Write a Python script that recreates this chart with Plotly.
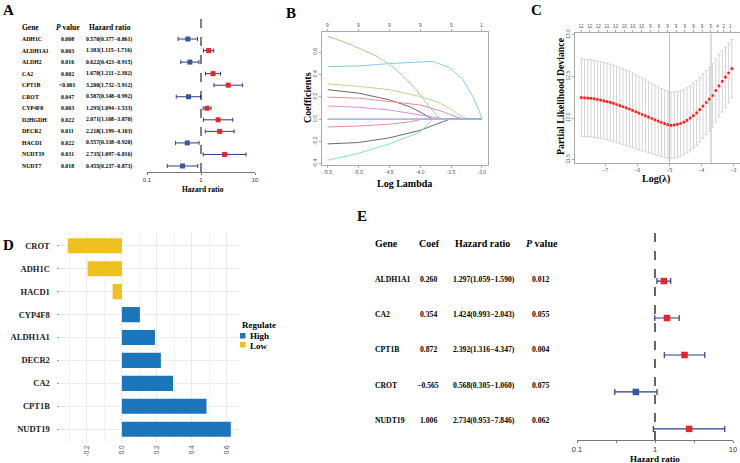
import plotly.graph_objects as go

W, H = 740, 463
SERIF = "Liberation Serif"
SANS = "Liberation Sans"


def fx(px):
    return px / W


def fy(py):
    return 1 - py / H


# ---------------- Panel A data (univariate Cox) ----------------
genes_a = ["ADH1C", "ALDH1A1", "ALDH2", "CA2", "CPT1B", "CROT", "CYP4F8",
           "D2HGDH", "DECR2", "HACD1", "NUDT19", "NUDT7"]
pval_a = ["0.008", "0.003", "0.016", "0.002", "<0.001", "0.047", "0.003",
          "0.022", "0.011", "0.022", "0.031", "0.018"]
hr_a = [0.570, 1.383, 0.622, 1.670, 3.200, 0.587, 1.295, 2.071, 2.218, 0.557, 2.735, 0.455]
lo_a = [0.377, 1.115, 0.423, 1.211, 1.732, 0.348, 1.094, 1.108, 1.199, 0.338, 1.097, 0.237]
hi_a = [0.861, 1.716, 0.915, 2.302, 5.912, 0.992, 1.533, 3.870, 4.103, 0.920, 6.816, 0.873]

# ---------------- Panel B data (LASSO coefficient paths) ----------------
path_x_nudt19 = [-5.5, -5.148, -4.715, -4.5, -4.282, -4.066, -3.85, -3.68, -3.0]
path_y_nudt19 = [0.742, 0.673, 0.567, 0.491, 0.391, 0.264, 0.112, 0.0, 0.0]
path_x_cpt1b = [-5.5, -5.0, -4.5, -4.0, -3.8, -3.525, -3.308, -3.146, -3.038, -3.0]
path_y_cpt1b = [0.470, 0.476, 0.497, 0.515, 0.518, 0.461, 0.355, 0.203, 0.067, 0.0]
path_x_ca2 = [-5.5, -5.0, -4.5, -4.0, -3.74, -3.52, -3.36, -3.23, -3.0]
path_y_ca2 = [0.315, 0.294, 0.264, 0.203, 0.158, 0.097, 0.036, 0.0, 0.0]
path_x_decr2 = [-5.5, -5.0, -4.5, -4.17, -3.96, -3.80, -3.0]
path_y_decr2 = [0.264, 0.233, 0.173, 0.112, 0.052, 0.0, 0.0]
path_x_aldh1a1 = [-5.5, -5.0, -4.5, -4.0, -3.63, -3.42, -3.28, -3.0]
path_y_aldh1a1 = [0.197, 0.188, 0.158, 0.127, 0.067, 0.021, 0.0, 0.0]
path_x_cyp4f8 = [-5.5, -5.0, -4.5, -4.0, -3.74, -3.58, -3.0]
path_y_cyp4f8 = [0.118, 0.106, 0.082, 0.042, 0.015, 0.0, 0.0]
path_x_hacd1 = [-5.5, -5.0, -4.5, -4.17, -3.96, -3.0]
path_y_hacd1 = [-0.070, -0.061, -0.045, -0.024, 0.0, 0.0]
path_x_adh1c = [-5.5, -5.0, -4.5, -4.0, -3.74, -3.52, -3.0]
path_y_adh1c = [-0.221, -0.209, -0.167, -0.100, -0.045, 0.0, 0.0]
path_x_crot = [-5.5, -5.0, -4.5, -4.17, -4.0, -3.8, -3.0]
path_y_crot = [-0.367, -0.306, -0.221, -0.155, -0.115, 0.0, 0.0]
path_x_zero = [-5.5, -3.0]
path_y_zero = [0.0, 0.0]
b_ticks = [-5.5, -5.0, -4.5, -4.0, -3.5, -3.0]
b_tick_labels = ["-5.5", "-5.0", "-4.5", "-4.0", "-3.5", "-3.0"]
b_top_labels = ["9", "9", "9", "9", "5", "1"]
b_yticks = [-0.4, -0.2, 0.0, 0.2, 0.4, 0.6]
b_ytick_labels = ["-0.4", "-0.2", "0.0", "0.2", "0.4", "0.6"]

# ---------------- Panel C data (cross-validation) ----------------
cv_loglam = [-7.75, -7.65, -7.55, -7.45, -7.35, -7.25, -7.15, -7.05, -6.95, -6.85,
             -6.75, -6.65, -6.55, -6.45, -6.35, -6.25, -6.15, -6.05, -5.95, -5.85,
             -5.75, -5.65, -5.55, -5.45, -5.35, -5.25, -5.15, -5.05, -4.95, -4.85,
             -4.75, -4.65, -4.55, -4.45, -4.35, -4.25, -4.15, -4.05, -3.95, -3.85,
             -3.75, -3.65, -3.55, -3.45, -3.35, -3.25, -3.15, -3.05]
cv_mean = [12.244, 12.242, 12.239, 12.235, 12.230, 12.222, 12.215, 12.206, 12.197, 12.187,
           12.175, 12.162, 12.148, 12.135, 12.122, 12.108, 12.092, 12.075, 12.058, 12.042,
           12.026, 12.010, 11.994, 11.978, 11.962, 11.946, 11.932, 11.920, 11.912, 11.916,
           11.924, 11.934, 11.950, 11.972, 11.998, 12.028, 12.062, 12.100, 12.142, 12.186,
           12.226, 12.270, 12.330, 12.386, 12.440, 12.490, 12.540, 12.592]
cv_se = [0.464, 0.464, 0.463, 0.463, 0.462, 0.462, 0.461, 0.461, 0.460, 0.460,
         0.459, 0.458, 0.457, 0.455, 0.453, 0.451, 0.448, 0.445, 0.441, 0.437,
         0.432, 0.427, 0.422, 0.417, 0.412, 0.408, 0.405, 0.402, 0.400, 0.398,
         0.396, 0.394, 0.393, 0.392, 0.391, 0.390, 0.390, 0.389, 0.388, 0.386,
         0.384, 0.381, 0.378, 0.374, 0.369, 0.363, 0.357, 0.350]
lambda_min = -5.0
lambda_1se = -3.70
c_top_pos = [-7.76, -7.49, -7.22, -6.95, -6.68, -6.41, -6.14, -5.87, -5.60, -5.33,
             -5.06, -4.79, -4.52, -4.25, -3.98, -3.71, -3.50, -3.30, -3.10]
c_top_labels = ["12", "12", "12", "11", "10", "10", "10", "10", "9", "9",
                "9", "9", "9", "9", "9", "5", "4", "2", "1"]
c_xticks = [-7, -6, -5, -4, -3]
c_yticks = [11.5, 12.0, 12.5, 13.0]
c_ytick_labels = ["11.5", "12.0", "12.5", "13.0"]

# ---------------- Panel D data (LASSO coefficients) ----------------
genes_d = ["CROT", "ADH1C", "HACD1", "CYP4F8", "ALDH1A1", "DECR2", "CA2", "CPT1B", "NUDT19"]
coef_d = [-0.310, -0.196, -0.053, 0.103, 0.189, 0.223, 0.293, 0.484, 0.623]
d_ticks = [-0.2, 0.0, 0.2, 0.4, 0.6]
d_tick_labels = ["-0.2", "0.0", "0.2", "0.4", "0.6"]

# ---------------- Panel E data (multivariate Cox) ----------------
genes_e = ["ALDH1A1", "CA2", "CPT1B", "CROT", "NUDT19"]
coef_e = ["0.260", "0.354", "0.872", "\u22120.565", "1.006"]
hr_e = [1.297, 1.424, 2.392, 0.568, 2.734]
lo_e = [1.059, 0.993, 1.316, 0.305, 0.953]
hi_e = [1.590, 2.043, 4.347, 1.060, 7.846]
pval_e = ["0.012", "0.055", "0.004", "0.075", "0.062"]

hr_ticks = [0.1, 0.3162, 1, 3.162, 10]
hr_tick_labels = ["0.1", "", "1", "", "10"]

RED = "#E8262A"
BLUE = "#3B55A5"
NAVY = "#2B3A91"
BAR_HIGH = "#1B75BB"
BAR_LOW = "#EFC11F"

fig = go.Figure()
annotations = []
shapes = []


def ann(text, x, y, size, xanchor="center", yanchor="middle", family=SERIF,
        color="black", xref="paper", yref="paper", angle=0):
    annotations.append(dict(text=text, x=x, y=y, xref=xref, yref=yref,
                            xanchor=xanchor, yanchor=yanchor, showarrow=False,
                            textangle=angle, font=dict(family=family, size=size, color=color)))


# ---------- Panel A ----------
ya = list(range(len(genes_a)))
fig.add_trace(go.Scatter(
    x=hr_a, y=ya, mode="markers", xaxis="x", yaxis="y",
    marker=dict(symbol="square", size=5,
                color=[RED if h > 1 else BLUE for h in hr_a]),
    error_x=dict(type="data", symmetric=False,
                 array=[u - h for u, h in zip(hi_a, hr_a)],
                 arrayminus=[h - l for h, l in zip(hr_a, lo_a)],
                 color=NAVY, thickness=1, width=2),
    showlegend=False, hoverinfo="skip"))
for i, g in enumerate(genes_a):
    ann("<b>%s</b>" % g, fx(20), i, 5.8, xanchor="left", yref="y")
    ann("<b>%s</b>" % pval_a[i], fx(67), i, 5.8, yref="y")
    ann("<b>%.3f(%.3f\u2212%.3f)</b>" % (hr_a[i], lo_a[i], hi_a[i]), fx(108.5), i, 5.8, yref="y")
ann("<b>Gene</b>", fx(20), fy(27), 7.5, xanchor="left")
ann("<b><i>P</i> value</b>", fx(68), fy(27), 7.5)
ann("<b>Hazard ratio</b>", fx(110), fy(27), 7.5)
ann("<b>Hazard ratio</b>", fx(203), fy(189), 7.5)
shapes.append(dict(type="line", xref="x", yref="y domain", x0=1, x1=1, y0=0, y1=1,
                   line=dict(color="black", width=1, dash="dash")))

# ---------- Panel B ----------
b_paths = [
    (path_x_zero, path_y_zero, "#B0B0B0"),
    (path_x_zero, path_y_zero, "#F0A0B0"),
    (path_x_nudt19, path_y_nudt19, "#9DD38A"),
    (path_x_cpt1b, path_y_cpt1b, "#8DC6EE"),
    (path_x_ca2, path_y_ca2, "#BCD98A"),
    (path_x_decr2, path_y_decr2, "#6A6A6A"),
    (path_x_aldh1a1, path_y_aldh1a1, "#EE8C9E"),
    (path_x_cyp4f8, path_y_cyp4f8, "#E38DDB"),
    (path_x_hacd1, path_y_hacd1, "#EE8C9E"),
    (path_x_adh1c, path_y_adh1c, "#6A6A6A"),
    (path_x_crot, path_y_crot, "#86DDE6"),
    (path_x_zero, path_y_zero, "#8DC6EE"),
]
for px_, py_, col in b_paths:
    fig.add_trace(go.Scatter(x=px_, y=py_, mode="lines", xaxis="x2", yaxis="y2",
                             line=dict(color=col, width=1), showlegend=False,
                             hoverinfo="skip"))
for xv, lab in zip(b_ticks, b_top_labels):
    ann(lab, xv, fy(25), 5, family=SANS, color="#555", xref="x2")
ann("<b>Coefficients</b>", fx(307), fy(98), 10, angle=-90)
ann("<b>Log Lambda</b>", fx(404), fy(183), 10)

# ---------- Panel C ----------
fig.add_trace(go.Scatter(
    x=cv_loglam, y=cv_mean, mode="markers", xaxis="x3", yaxis="y3",
    marker=dict(symbol="square", size=2.6, color="#FF2020"),
    error_y=dict(type="data", array=cv_se, color="#C8C8C8", thickness=0.8, width=1.5),
    showlegend=False, hoverinfo="skip"))
fig.add_trace(go.Scatter(x=c_top_pos, y=[12.0] * len(c_top_pos), mode="markers",
                         xaxis="x4", yaxis="y3", marker=dict(opacity=0),
                         showlegend=False, hoverinfo="skip"))
for lv in (lambda_min, lambda_1se):
    shapes.append(dict(type="line", xref="x3", yref="y3 domain", x0=lv, x1=lv, y0=0, y1=1,
                       line=dict(color="#BBBBBB", width=1)))
ann("<b>Partial Likelihood Deviance</b>", fx(560), fy(96), 9.8, angle=-90)
ann("<b>Log(\u03bb)</b>", fx(656), fy(179), 10)

# ---------- Panel D ----------
fig.add_trace(go.Bar(
    x=coef_d, y=list(range(len(genes_d))), orientation="h", xaxis="x6", yaxis="y6",
    width=0.66, marker=dict(color=[BAR_HIGH if v > 0 else BAR_LOW for v in coef_d],
                            line=dict(width=0)),
    showlegend=False, hoverinfo="skip"))
ann("<b>Regulate</b>", fx(239.5), fy(325), 9, xanchor="left")
shapes.append(dict(type="rect", xref="paper", yref="paper", x0=fx(240), x1=fx(245.5),
                   y0=fy(338.5), y1=fy(333), fillcolor=BAR_HIGH, line=dict(width=0)))
shapes.append(dict(type="rect", xref="paper", yref="paper", x0=fx(240), x1=fx(245.5),
                   y0=fy(347.5), y1=fy(342), fillcolor=BAR_LOW, line=dict(width=0)))
ann("<b>High</b>", fx(247.5), fy(336), 9, xanchor="left")
ann("<b>Low</b>", fx(247.5), fy(345.5), 9, xanchor="left")

# ---------- Panel E ----------
ye = list(range(len(genes_e)))
fig.add_trace(go.Scatter(
    x=hr_e, y=ye, mode="markers", xaxis="x7", yaxis="y7",
    marker=dict(symbol="square", size=6.5,
                color=[RED if h > 1 else BLUE for h in hr_e]),
    error_x=dict(type="data", symmetric=False,
                 array=[u - h for u, h in zip(hi_e, hr_e)],
                 arrayminus=[h - l for h, l in zip(hr_e, lo_e)],
                 color=NAVY, thickness=1.2, width=3),
    showlegend=False, hoverinfo="skip"))
ann("<b>Gene</b>", fx(373), fy(243.5), 10, xanchor="left")
ann("<b>Coef</b>", fx(429.5), fy(243.5), 10)
ann("<b>Hazard ratio</b>", fx(482.5), fy(243.5), 10)
ann("<b><i>P</i> value</b>", fx(542), fy(243.5), 10)
for i, g in enumerate(genes_e):
    yy = fy(279.5 + i * 35.2)
    ann("<b>%s</b>" % g, fx(373), yy, 7.7, xanchor="left")
    ann("<b>%s</b>" % coef_e[i], fx(428), yy, 7.7)
    ann("<b>%.3f(%.3f\u2212%.3f)</b>" % (hr_e[i], lo_e[i], hi_e[i]), fx(484), yy, 7.7)
    ann("<b>%s</b>" % pval_e[i], fx(540), yy, 7.7)
ann("<b>Hazard ratio</b>", fx(655), fy(458.5), 9)
shapes.append(dict(type="line", xref="x7", yref="y7 domain", x0=1, x1=1, y0=0, y1=1,
                   line=dict(color="black", width=1.2, dash="dash")))

# ---------- Panel letters ----------
for lab, xp, yp in [("A", 1, 0), ("B", 284, 3), ("C", 529, 0), ("D", 1, 235), ("E", 355, 206)]:
    ann("<b>%s</b>" % lab, fx(xp), fy(yp), 15, xanchor="left", yanchor="top")

small_grey = dict(family=SANS, size=5, color="#555")
box_col = "#AAAAAA"

fig.update_layout(
    width=W, height=H, margin=dict(l=0, r=0, t=0, b=0, autoexpand=False),
    paper_bgcolor="white", plot_bgcolor="white", showlegend=False,
    annotations=annotations, shapes=shapes,
    # Panel A
    xaxis=dict(domain=[fx(147), fx(255)], type="log", range=[-1, 1], anchor="y",
               tickvals=[0.1, 1, 10], ticktext=["0.1", "1", "10"], ticks="outside",
               ticklen=2, tickcolor="#777", showline=True, linecolor="#777", linewidth=1,
               showgrid=False, zeroline=False, automargin=False,
               tickfont=dict(family=SANS, size=6, color="#333")),
    yaxis=dict(domain=[fy(172), fy(12)], range=[11.52, -2.34], visible=False,
               showgrid=False, zeroline=False, automargin=False),
    # Panel B
    xaxis2=dict(domain=[fx(321.5), fx(488)], range=[-5.6, -2.9], anchor="y2",
                tickvals=b_ticks, ticktext=b_tick_labels, ticks="outside", ticklen=2,
                tickcolor=box_col, showline=True, linecolor=box_col, mirror="ticks",
                showgrid=False, zeroline=False, tickfont=small_grey, automargin=False),
    yaxis2=dict(domain=[fy(165), fy(32)], range=[-0.41, 0.78], anchor="x2",
                tickvals=b_yticks, ticktext=b_ytick_labels, ticks="outside", ticklen=2,
                tickcolor=box_col, showline=True, linecolor=box_col, mirror=True,
                showgrid=False, zeroline=False, tickangle=-90, tickfont=small_grey,
                automargin=False),
    # Panel C
    xaxis3=dict(domain=[fx(575), fx(739.5)], range=[-7.95, -2.81], anchor="y3",
                tickvals=c_xticks, ticks="outside", ticklen=2, tickcolor=box_col,
                showline=True, linecolor=box_col, mirror=True, showgrid=False,
                zeroline=False, tickfont=small_grey, automargin=False),
    xaxis4=dict(overlaying="x3", side="top", anchor="y3", range=[-7.95, -2.81],
                tickvals=c_top_pos, ticktext=c_top_labels, ticks="outside", ticklen=2,
                tickcolor=box_col, showline=False, showgrid=False, zeroline=False,
                tickfont=dict(family=SANS, size=4.6, color="#555"), automargin=False),
    yaxis3=dict(domain=[fy(163), fy(33)], range=[11.46, 13.02], anchor="x3",
                tickvals=c_yticks, ticktext=c_ytick_labels, ticks="outside", ticklen=2,
                tickcolor=box_col, showline=True, linecolor=box_col, mirror=True,
                showgrid=False, zeroline=False, tickangle=-90, tickfont=small_grey,
                automargin=False),
    # Panel D
    xaxis6=dict(domain=[fx(59.5), fx(239)], range=[-0.357, 0.67], anchor="y6",
                tickvals=d_ticks, ticktext=d_tick_labels, tickangle=-90,
                showgrid=True, gridcolor="#EBEBEB", gridwidth=0.8,
                minor=dict(tickvals=[-0.3, -0.1, 0.1, 0.3, 0.5], showgrid=True,
                           gridcolor="#F3F3F3", gridwidth=0.5),
                zeroline=False, showline=False, ticks="", automargin=False,
                tickfont=dict(family=SANS, size=6.5, color="#4D4D4D")),
    yaxis6=dict(domain=[fy(443), fy(232)], range=[8.6, -0.6], anchor="x6",
                tickvals=list(range(len(genes_d))),
                ticktext=["<b>%s</b>" % g for g in genes_d],
                ticks="outside", ticklen=2, tickcolor="#999", showgrid=True,
                gridcolor="#EBEBEB", gridwidth=0.8, zeroline=False, showline=False,
                automargin=False, ticklabelstandoff=5,
                tickfont=dict(family=SERIF, size=8.5, color="#222")),
    # Panel E
    xaxis7=dict(domain=[fx(577), fx(733)], type="log", range=[-1, 1], anchor="y7",
                tickvals=hr_ticks, ticktext=hr_tick_labels, ticks="outside", ticklen=2,
                tickcolor="#777", showline=True, linecolor="#777", linewidth=1,
                showgrid=False, zeroline=False, automargin=False,
                tickfont=dict(family=SANS, size=7.5, color="#333")),
    yaxis7=dict(domain=[fy(440), fy(233)], range=[4.3, -1.3], visible=False,
                showgrid=False, zeroline=False, automargin=False),
)

fig.write_html("out.html", config={"displayModeBar": False},
               post_script="document.body.style.margin='0';document.body.style.overflow='hidden';")
